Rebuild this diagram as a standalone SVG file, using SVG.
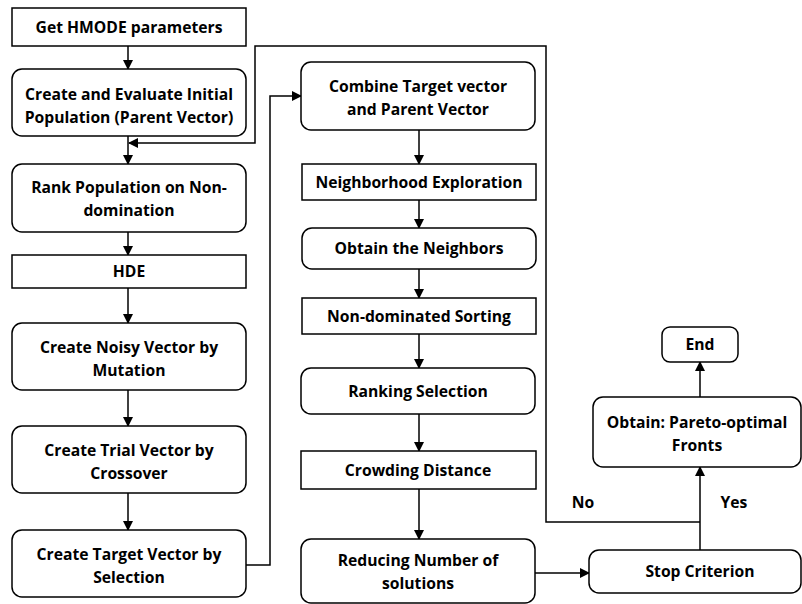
<svg xmlns="http://www.w3.org/2000/svg" width="802" height="604" viewBox="0 0 802 604">
<defs>
<marker id="ah" markerWidth="10" markerHeight="10" refX="9" refY="5" orient="auto" markerUnits="userSpaceOnUse">
<path d="M0,0 L10,5 L0,10 Z" fill="#000"/>
</marker>
<style>
.b{fill:#fff;stroke:#000;stroke-width:1.5}
.t{font-family:"Open Sans","Liberation Sans",sans-serif;font-weight:bold;font-size:15.7px;text-anchor:middle;fill:#000}
.c{fill:none;stroke:#000;stroke-width:1.5}
.a{marker-end:url(#ah)}
</style>
</defs>
<rect width="802" height="604" fill="#fff"/>
<g id="connectors">
<path class="c a" d="M128,46 V69"/>
<path class="c a" d="M128,136 V164"/>
<path class="c a" d="M700,522 H546 V46 H255 V143 H129"/>
<path class="c a" d="M128,232 V255"/>
<path class="c a" d="M128,288 V323"/>
<path class="c a" d="M128,390 V426"/>
<path class="c a" d="M128,493 V530"/>
<path class="c a" d="M246,565 H270 V96 H301"/>
<path class="c a" d="M419,130 V164"/>
<path class="c a" d="M419,200 V228"/>
<path class="c a" d="M419,269 V298"/>
<path class="c a" d="M419,334 V368"/>
<path class="c a" d="M419,414 V451"/>
<path class="c a" d="M419,489 V539"/>
<path class="c a" d="M535,573 H589"/>
<path class="c a" d="M700,550 V467"/>
<path class="c a" d="M700,397 V362"/>
<text class="t" x="583" y="508">No</text>
<text class="t" x="734" y="508">Yes</text>
</g>
<g id="get-params"><rect class="b" x="12" y="8" width="234" height="38"/><text class="t" x="129" y="33">Get HMODE parameters</text></g>
<g id="create-eval"><rect class="b" x="12" y="69" width="234" height="67" rx="10"/><text class="t" x="129" y="100">Create and Evaluate Initial</text><text class="t" x="129" y="123">Population (Parent Vector)</text></g>
<g id="rank"><rect class="b" x="12" y="164" width="234" height="68" rx="10"/><text class="t" x="129" y="193">Rank Population on Non-</text><text class="t" x="129" y="216">domination</text></g>
<g id="hde"><rect class="b" x="12" y="255" width="234" height="33"/><text class="t" x="129" y="277">HDE</text></g>
<g id="noisy"><rect class="b" x="12" y="323" width="234" height="67" rx="10"/><text class="t" x="129" y="353">Create Noisy Vector by</text><text class="t" x="129" y="376">Mutation</text></g>
<g id="trial"><rect class="b" x="12" y="426" width="234" height="67" rx="10"/><text class="t" x="129" y="456">Create Trial Vector by</text><text class="t" x="129" y="479">Crossover</text></g>
<g id="target"><rect class="b" x="12" y="530" width="234" height="67" rx="10"/><text class="t" x="129" y="560">Create Target Vector by</text><text class="t" x="129" y="583">Selection</text></g>
<g id="combine"><rect class="b" x="301" y="62" width="234" height="68" rx="10"/><text class="t" x="418" y="92">Combine Target vector</text><text class="t" x="418" y="115">and Parent Vector</text></g>
<g id="neighborhood"><rect class="b" x="302" y="164" width="234" height="36"/><text class="t" x="419" y="188">Neighborhood Exploration</text></g>
<g id="neighbors"><rect class="b" x="302" y="228" width="234" height="41" rx="10"/><text class="t" x="419" y="254">Obtain the Neighbors</text></g>
<g id="sorting"><rect class="b" x="302" y="298" width="234" height="36"/><text class="t" x="419" y="322">Non-dominated Sorting</text></g>
<g id="ranking"><rect class="b" x="301" y="368" width="234" height="46" rx="10"/><text class="t" x="418" y="397">Ranking Selection</text></g>
<g id="crowding"><rect class="b" x="301" y="451" width="235" height="38"/><text class="t" x="418" y="476">Crowding Distance</text></g>
<g id="reducing"><rect class="b" x="301" y="539" width="234" height="64" rx="10"/><text class="t" x="418" y="566">Reducing Number of</text><text class="t" x="418" y="589">solutions</text></g>
<g id="stop"><rect class="b" x="589" y="550" width="212" height="43" rx="10"/><text class="t" x="700" y="577">Stop Criterion</text></g>
<g id="pareto"><rect class="b" x="593" y="397" width="208" height="70" rx="10"/><text class="t" x="697" y="428">Obtain: Pareto-optimal</text><text class="t" x="697" y="451">Fronts</text></g>
<g id="end"><rect class="b" x="662" y="327" width="76" height="35" rx="8"/><text class="t" x="700" y="350">End</text></g>
</svg>
